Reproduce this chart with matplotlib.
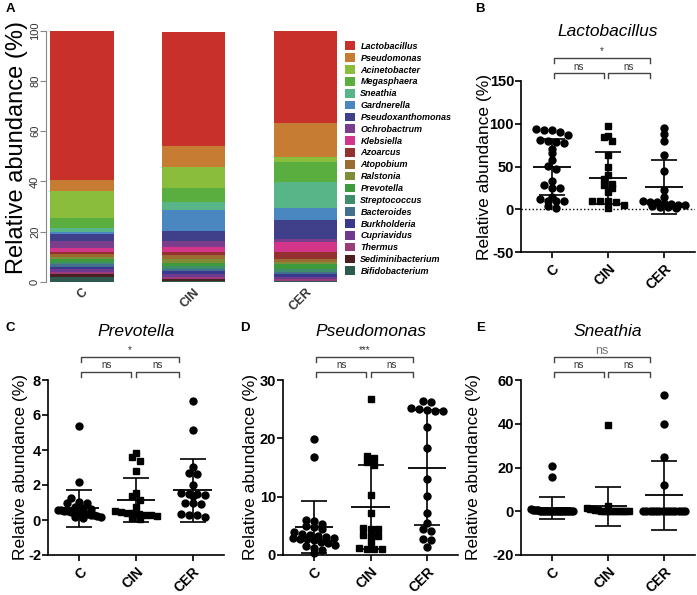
import matplotlib
matplotlib.use('Agg')
import matplotlib.pyplot as plt
import numpy as np
from matplotlib.patches import Patch
from matplotlib.transforms import blended_transform_factory

plt.rcParams['font.family'] = ['Liberation Sans', 'DejaVu Sans']
plt.rcParams['axes.unicode_minus'] = False

# ---- panel A: stacked genus composition ----
groups = ['C', 'CIN', 'CER']
genera = ['Lactobacillus', 'Pseudomonas', 'Acinetobacter', 'Megasphaera', 'Sneathia',
          'Gardnerella', 'Pseudoxanthomonas', 'Ochrobactrum', 'Klebsiella', 'Azoarcus',
          'Atopobium', 'Ralstonia', 'Prevotella', 'Streptococcus', 'Bacteroides',
          'Burkholderia', 'Cupriavidus', 'Thermus', 'Sediminibacterium', 'Bifidobacterium']
ab_c = [59.5, 4.5, 10.5, 4.0, 1.5, 1.0, 2.5, 3.0, 1.5, 1.0,
        1.0, 1.0, 1.0, 1.0, 1.0, 1.0, 1.0, 1.0, 1.0, 2.0]
ab_cin = [45.5, 8.3, 8.4, 5.5, 3.3, 8.2, 4.0, 2.3, 2.0, 1.2,
          1.8, 1.5, 1.2, 1.0, 1.0, 1.0, 1.3, 1.0, 0.7, 0.3]
ab_cer = [36.7, 13.6, 2.0, 8.0, 10.4, 4.8, 7.5, 1.0, 4.0, 3.0,
          1.0, 1.0, 1.7, 1.3, 1.0, 1.0, 1.0, 0.5, 0.3, 0.2]
genus_colors = ['#c8312b', '#c77c34', '#8bbd3c', '#5aae3f', '#58b587', '#4a86bf',
                '#3f3f8a', '#7a3e8c', '#d3358a', '#933131', '#9a6c32', '#7f8c38',
                '#3d9a3d', '#3e8e6c', '#446f8e', '#3a3a8c', '#6d3a90', '#9b3c7a',
                '#4a1f1f', '#2d5a4e']

# ---- panels B-E: per-sample relative abundance (%) ----
lac_c = [94, 93, 93, 90, 87, 81, 80, 79, 78, 70, 66, 58, 51, 47, 33, 28, 25, 25,
         14, 12, 10, 10, 10, 4, 2]
lac_cin = [97, 86, 84, 80, 63, 50, 40, 35, 30, 28, 25, 20, 10, 10, 10, 9, 5, 2]
lac_cer = [95, 88, 80, 63, 45, 22, 14, 10, 8, 8, 7, 6, 5, 5, 4, 3, 3, 2]
lac_mean = [49.5, 37.0, 26.5]
lac_sd = [32.5, 30.5, 31.5]

prev_c = [5.35, 2.2, 1.25, 1.05, 1.0, 0.95, 0.75, 0.7, 0.65, 0.6, 0.55, 0.5, 0.5,
          0.45, 0.45, 0.4, 0.4, 0.35, 0.35, 0.3, 0.3, 0.25, 0.2, 0.15, 0.1]
prev_cin = [3.85, 3.6, 3.4, 2.8, 1.55, 1.4, 1.15, 0.75, 0.5, 0.45, 0.4, 0.4, 0.35,
            0.3, 0.3, 0.25, 0.1, 0.05]
prev_cer = [6.8, 5.15, 3.05, 2.7, 2.65, 2.0, 1.55, 1.5, 1.5, 1.45, 1.4, 0.95, 0.95,
            0.9, 0.35, 0.3, 0.3, 0.2]
prev_mean = [0.67, 1.15, 1.71]
prev_sd = [1.07, 1.27, 1.8]

pseu_c = [19.9, 16.8, 6.0, 5.9, 5.4, 5.0, 4.8, 4.5, 3.9, 3.6, 3.4, 3.2, 3.1, 3.0,
          2.9, 2.8, 2.7, 2.5, 2.2, 2.0, 1.8, 1.5, 1.2, 0.8, 0.4]
pseu_cin = [26.8, 17.0, 16.7, 15.9, 15.5, 10.3, 7.2, 4.6, 4.5, 4.4, 3.4, 3.3, 3.3,
            2.2, 1.2, 1.1, 1.0, 1.0]
pseu_cer = [26.4, 26.3, 25.2, 25.0, 24.8, 24.7, 24.7, 22.0, 18.4, 13.1, 10.2, 7.2,
            5.5, 4.4, 4.2, 2.8, 2.6, 1.4]
pseu_mean = [4.75, 8.25, 15.0]
pseu_sd = [4.45, 7.2, 9.85]

snea_c = [20.5, 15.5, 1.0, 0.8, 0.6, 0.5, 0.4, 0.3, 0.3, 0.2, 0.2, 0.1, 0.1, 0.1,
          0.1, 0, 0, 0, 0, 0, 0, 0, 0, 0, 0]
snea_cin = [39.5, 2.5, 1.5, 1.2, 1.0, 0.8, 0.5, 0.3, 0.2, 0.1, 0.1, 0, 0, 0, 0, 0, 0, 0]
snea_cer = [53.3, 40.0, 24.8, 12.0, 0, 0, 0, 0, 0, 0, 0, 0, 0, 0, 0, 0, 0, 0]
snea_mean = [1.5, 2.25, 7.25]
snea_sd = [4.95, 9.05, 15.95]

W, H, DPI = 697, 595, 100
fig = plt.figure(figsize=(W / DPI, H / DPI), dpi=DPI)


def px_axes(l, t, r, b):
    return fig.add_axes([l / W, 1 - b / H, (r - l) / W, (b - t) / H])


# ---------------- panel A ----------------
axA = px_axes(46, 30.5, 339, 282)
x = np.arange(3)
table = np.array([ab_c, ab_cin, ab_cer])
bottom = np.zeros(3)
for k in range(len(genera) - 1, -1, -1):
    axA.bar(x, table[:, k], 0.57, bottom=bottom, color=genus_colors[k], edgecolor='none')
    bottom += table[:, k]
axA.set_xlim(-0.32, 2.3)
axA.set_ylim(0, 100)
for s in ['top', 'right', 'bottom']:
    axA.spines[s].set_visible(False)
axA.spines['left'].set_color('#888888')
axA.spines['left'].set_linewidth(0.8)
axA.set_yticks([0, 20, 40, 60, 80, 100])
axA.tick_params(axis='y', labelsize=8, labelcolor='#333333', color='#888888',
                length=4, pad=0.3, labelrotation=90)
for lab in axA.get_yticklabels():
    lab.set_va('center')
axA.set_xticks(x)
axA.set_xticklabels(groups, rotation=45, ha='right', rotation_mode='anchor',
                    fontsize=9, fontweight='bold', color='#333333')
axA.tick_params(axis='x', length=0, pad=3)
axA.set_ylabel('Relative abundance (%)', fontsize=17)
axA.yaxis.set_label_coords(-0.061, 0.535)

handles = [Patch(facecolor=c, edgecolor='none') for c in genus_colors]
fig.legend(handles, genera, loc='upper left', bbox_to_anchor=(345 / W, 1 - 41.5 / H),
           frameon=False,
           prop={'style': 'italic', 'weight': 'bold', 'size': 6.5},
           handlelength=1.1, handleheight=1.1, handletextpad=0.6,
           labelspacing=0.27, borderpad=0, borderaxespad=0)


# ---------------- scatter panels ----------------
def swarm(vals, binw, step=0.14, maxw=0.75):
    vals = np.asarray(vals, dtype=float)
    offs = np.zeros(len(vals))
    bins = np.floor(vals / binw + 0.5)
    for b in np.unique(bins):
        idx = np.where(bins == b)[0]
        n = len(idx)
        if n > 1:
            st = min(step, maxw / (n - 1))
            offs[idx] = (np.arange(n) - (n - 1) / 2) * st
    return offs


def bracket(ax, x0, x1, up_px, text, tcolor='#333333', tsize=7):
    tr = blended_transform_factory(ax.transData, fig.dpi_scale_trans)
    top = ax.get_position().y1 * H / DPI
    yh = top + up_px / DPI
    yl = yh - 5 / DPI
    ax.plot([x0, x0, x1, x1], [yl, yh, yh, yl], color='#444444', lw=1,
            transform=tr, clip_on=False)
    ax.text((x0 + x1) / 2, yh + 6.5 / DPI, text, transform=tr, ha='center',
            va='center', fontsize=tsize, color=tcolor)


def scatter_panel(ax, title, data, means, sds, ylim, yticks, top_text, label_px,
                  dotted=False, top_color='#333333', top_size=7):
    h_px = ax.get_position().height * H
    w_px = ax.get_position().width * W
    binw = (ylim[1] - ylim[0]) * 7 / h_px
    for i, (vals, mk) in enumerate(zip(data, ['o', 's', 'o'])):
        ax.plot(i + swarm(vals, binw), vals, mk, color='k',
                ms=5 if mk == 'o' else 4.6, ls='none', clip_on=False, zorder=3)
    ax.hlines(means, np.arange(3) - 0.34, np.arange(3) + 0.34, color='k', lw=1.3, zorder=4)
    ax.errorbar(np.arange(3), means, yerr=sds, fmt='none', ecolor='k',
                elinewidth=1.2, capsize=9.5, capthick=1.2, zorder=4)
    if dotted:
        ax.axhline(0, ls=':', color='k', lw=1, zorder=1)
    ax.set_xlim(-0.55, 2.55)
    ax.set_ylim(*ylim)
    ax.set_yticks(yticks)
    ax.set_xticks(np.arange(3))
    ax.set_xticklabels(groups, rotation=45, ha='right', rotation_mode='anchor',
                       fontsize=10, fontweight='bold')
    for lab in ax.get_yticklabels():
        lab.set_fontweight('bold')
    ax.tick_params(axis='y', labelsize=10.5, length=4, width=1.2, pad=1)
    ax.tick_params(axis='x', length=4, width=1.2, pad=3)
    for s in ['top', 'right']:
        ax.spines[s].set_visible(False)
    for s in ['left', 'bottom']:
        ax.spines[s].set_linewidth(1.2)
    ax.set_ylabel('Relative abundance (%)', fontsize=12.5)
    ax.yaxis.set_label_coords(-label_px / w_px, 0.5)
    tr = blended_transform_factory(ax.transData, fig.dpi_scale_trans)
    top = ax.get_position().y1 * H / DPI
    ax.text(1.0, top + 49 / DPI, title, transform=tr, ha='center', va='center',
            fontsize=12.5, style='italic')
    bracket(ax, 0.04, 1.75, 23, top_text, top_color, top_size)
    bracket(ax, 0.04, 0.92, 8, 'ns')
    bracket(ax, 1.0, 1.75, 8, 'ns')


axB = px_axes(521, 81, 695, 252)
scatter_panel(axB, 'Lactobacillus', [lac_c, lac_cin, lac_cer], lac_mean, lac_sd,
              (-50, 150), [-50, 0, 50, 100, 150], '*', 29, dotted=True)

axC = px_axes(48, 380, 224, 555)
scatter_panel(axC, 'Prevotella', [prev_c, prev_cin, prev_cer], prev_mean, prev_sd,
              (-2, 8), [-2, 0, 2, 4, 6, 8], '*', 20)

axD = px_axes(283, 380, 458, 555)
scatter_panel(axD, 'Pseudomonas', [pseu_c, pseu_cin, pseu_cer], pseu_mean, pseu_sd,
              (0, 30), [0, 10, 20, 30], '***', 25)

axE = px_axes(521, 380, 695, 555)
scatter_panel(axE, 'Sneathia', [snea_c, snea_cin, snea_cer], snea_mean, snea_sd,
              (-20, 60), [-20, 0, 20, 40, 60], 'ns', 40, top_color='#777777', top_size=9)

# panel letters
for letter, (px, py) in zip('ABCDE', [(10, 9), (480, 9), (10, 328), (245, 328), (481, 328)]):
    fig.text(px / W, 1 - py / H, letter, fontsize=9.5, fontweight='bold',
             ha='center', va='center')

fig.savefig('out.png', dpi=DPI)
